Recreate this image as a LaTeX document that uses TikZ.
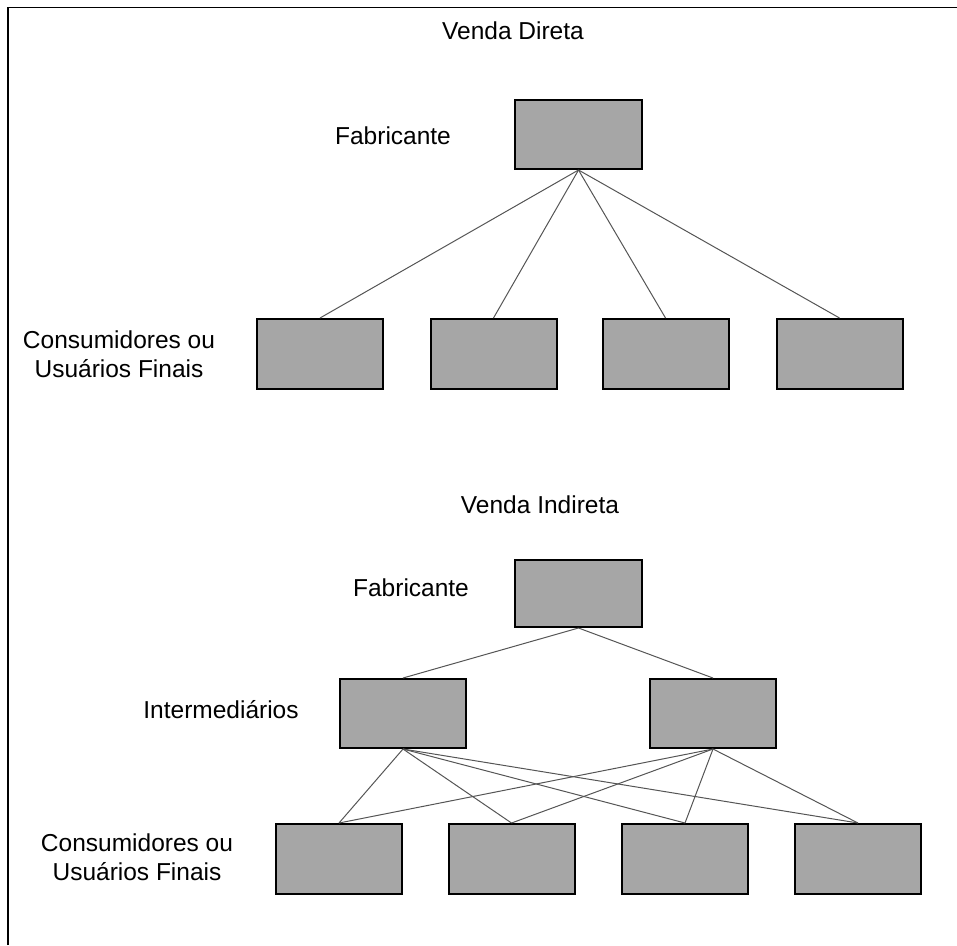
\documentclass[tikz,border=0pt]{standalone}
\usepackage{fontspec}
\setmainfont{Liberation Sans}
\definecolor{boxgray}{HTML}{A6A6A6}
\definecolor{linkgray}{HTML}{555555}
\begin{document}
\begin{tikzpicture}[x=1pt,y=-1pt,
  block/.style={draw=black,fill=boxgray,line width=2pt,inner sep=0pt,
    minimum width=126pt,minimum height=70pt},
  label/.style={font=\fontsize{24.5}{28.5}\selectfont,inner sep=0pt,anchor=base,align=center},
  link/.style={draw=linkgray,line width=1pt}]
\useasboundingbox (0,0) rectangle (957,945);
% partial frame (top and left edges)
\draw[line width=1.8pt] (8,945) -- (8,7.5) -- (957,7.5);

% ---- direct sales ----
\node[label] (t1) at (513,39) {Venda Direta};
\node[label] (fl1) at (393,144) {Fabricante};
% two-line labels sit on the baseline of their last line
\node[label] (cl1) at (119,377) {Consumidores ou\\Usuários Finais};

\node[block,minimum width=127pt,minimum height=69pt] (f1) at (578.5,134.5) {};
\node[block] (d1) at (320,354) {};
\node[block] (d2) at (493.5,354) {};
\node[block] (d3) at (665.5,354) {};
\node[block] (d4) at (839.5,354) {};
\foreach \n in {d1,d2,d3,d4}
  \draw[link] (f1.south) -- (\n.north);

% ---- indirect sales ----
\node[label] (t2) at (540,513) {Venda Indireta};
\node[label] (fl2) at (411,596) {Fabricante};
\node[label] (il) at (221,718) {Intermediários};
\node[label] (cl2) at (137,880) {Consumidores ou\\Usuários Finais};

\node[block,minimum width=127pt,minimum height=67pt] (f2) at (578.5,593.5) {};
\node[block,minimum height=69pt] (i1) at (403,713.5) {};
\node[block,minimum height=69pt] (i2) at (713,713.5) {};
\node[block] (c1) at (339,859) {};
\node[block] (c2) at (511.5,859) {};
\node[block] (c3) at (685,859) {};
\node[block] (c4) at (858,859) {};

\draw[link] (f2.south) -- (i1.north);
\draw[link] (f2.south) -- (i2.north);
\foreach \m in {i1,i2}
  \foreach \n in {c1,c2,c3,c4}
    \draw[link] (\m.south) -- (\n.north);
\end{tikzpicture}
\end{document}
